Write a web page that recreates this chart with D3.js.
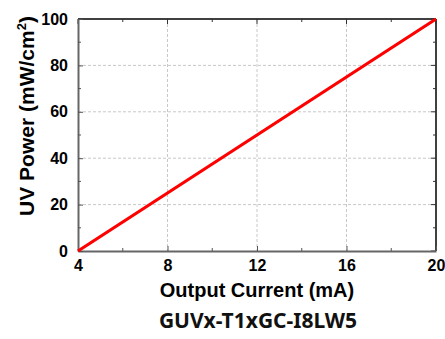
<!DOCTYPE html>
<html>
<head>
<meta charset="utf-8">
<script src="https://cdn.jsdelivr.net/npm/d3@7"></script>
<style>
  html, body { margin: 0; padding: 0; background: #fff; }
  svg { display: block; }
</style>
</head>
<body>
<div id="chart"></div>
<script>
// data
const currentMA = [4, 8, 12, 16, 20];
const uvPower = [0, 25, 50, 75, 100];
const xTicks = [4, 8, 12, 16, 20];
const xMinor = [6, 10, 14, 18];
const yTicks = [0, 20, 40, 60, 80, 100];
const yMinor = [10, 30, 50, 70, 90];
const caption = 'GUVx-T1xGC-I8LW5';

const width = 445, height = 339;
const margin = {top: 19, right: 9, bottom: 88, left: 78};
const innerW = width - margin.left - margin.right;
const innerH = height - margin.top - margin.bottom;

const svg = d3.select('#chart').append('svg')
  .attr('width', width)
  .attr('height', height);

const g = svg.append('g').attr('transform', `translate(${margin.left},${margin.top})`);

const x = d3.scaleLinear().domain([4, 20]).range([0, innerW]);
const y = d3.scaleLinear().domain([0, 100]).range([innerH, 0]);

// grid
g.append('g').selectAll('line')
  .data(xTicks.slice(1, -1))
  .enter().append('line')
  .attr('x1', d => x(d)).attr('x2', d => x(d))
  .attr('y1', 0).attr('y2', innerH)
  .attr('stroke', '#c8c8c8').attr('stroke-width', 1)
  .attr('stroke-dasharray', '3,2');

g.append('g').selectAll('line')
  .data(yTicks.slice(1, -1))
  .enter().append('line')
  .attr('x1', 0).attr('x2', innerW)
  .attr('y1', d => y(d)).attr('y2', d => y(d))
  .attr('stroke', '#c8c8c8').attr('stroke-width', 1)
  .attr('stroke-dasharray', '3,2');

// top / right frame
g.append('line').attr('x1', 0).attr('x2', innerW).attr('y1', 0).attr('y2', 0)
  .attr('stroke', '#000').attr('stroke-width', 1.5);
g.append('line').attr('x1', innerW).attr('x2', innerW).attr('y1', 0).attr('y2', innerH)
  .attr('stroke', '#000').attr('stroke-width', 1.5);

// inward ticks on right and top
const tickG = g.append('g').attr('stroke', '#333').attr('stroke-width', 1);
tickG.selectAll('.rt').data(yTicks.concat(yMinor)).enter().append('line')
  .attr('x1', innerW).attr('x2', d => innerW - (yMinor.includes(d) ? 3 : 5))
  .attr('y1', d => y(d)).attr('y2', d => y(d));
tickG.selectAll('.tt').data(xTicks.concat(xMinor)).enter().append('line')
  .attr('y1', 0).attr('y2', d => (xMinor.includes(d) ? 3 : 5))
  .attr('x1', d => x(d)).attr('x2', d => x(d));

// bottom / left axes
const xAxis = g.append('g')
  .attr('transform', `translate(0,${innerH})`)
  .call(d3.axisBottom(x).tickValues(xTicks).tickSizeInner(-5).tickSizeOuter(0).tickPadding(9));
xAxis.append('g').selectAll('line').data(xMinor).enter().append('line')
  .attr('x1', d => x(d)).attr('x2', d => x(d)).attr('y1', 0).attr('y2', -3)
  .attr('stroke', '#555');

const yAxis = g.append('g')
  .call(d3.axisLeft(y).tickValues(yTicks).tickSizeInner(-5).tickSizeOuter(0).tickPadding(10));
yAxis.append('g').selectAll('line').data(yMinor).enter().append('line')
  .attr('y1', d => y(d)).attr('y2', d => y(d)).attr('x1', 0).attr('x2', 3)
  .attr('stroke', '#555');

[xAxis, yAxis].forEach(a => {
  a.select('.domain').attr('stroke', '#666').attr('stroke-width', 2);
  a.selectAll('.tick line').attr('stroke', '#555');
  a.selectAll('.tick text')
    .attr('font-family', 'Liberation Sans, Arial, sans-serif')
    .attr('font-weight', 'bold')
    .attr('font-size', 16)
    .attr('fill', '#000');
});

// line
const line = d3.line().x((d, i) => x(currentMA[i])).y(d => y(d));
g.append('path')
  .datum(uvPower)
  .attr('d', line)
  .attr('fill', 'none')
  .attr('stroke', '#f00')
  .attr('stroke-width', 3.2);

// axis titles
svg.append('text')
  .attr('x', margin.left + innerW / 2)
  .attr('y', 297)
  .attr('text-anchor', 'middle')
  .attr('font-family', 'Liberation Sans, Arial, sans-serif')
  .attr('font-weight', 'bold')
  .attr('font-size', 20)
  .text('Output Current (mA)');

const yl = svg.append('text')
  .attr('transform', 'translate(34,116) rotate(-90)')
  .attr('text-anchor', 'middle')
  .attr('font-family', 'Liberation Sans, Arial, sans-serif')
  .attr('font-weight', 'bold')
  .attr('font-size', 21);
yl.append('tspan').text('UV Power (mW/cm');
yl.append('tspan').attr('font-size', 13).attr('dy', -8).text('2');
yl.append('tspan').attr('dy', 8).text(')');

// caption
svg.append('text')
  .attr('x', 258)
  .attr('y', 328)
  .attr('text-anchor', 'middle')
  .attr('font-family', 'Noto Sans, sans-serif')
  .attr('font-weight', 'bold')
  .attr('font-size', 21)
  .attr('fill', '#111')
  .text(caption);
</script>
</body>
</html>
